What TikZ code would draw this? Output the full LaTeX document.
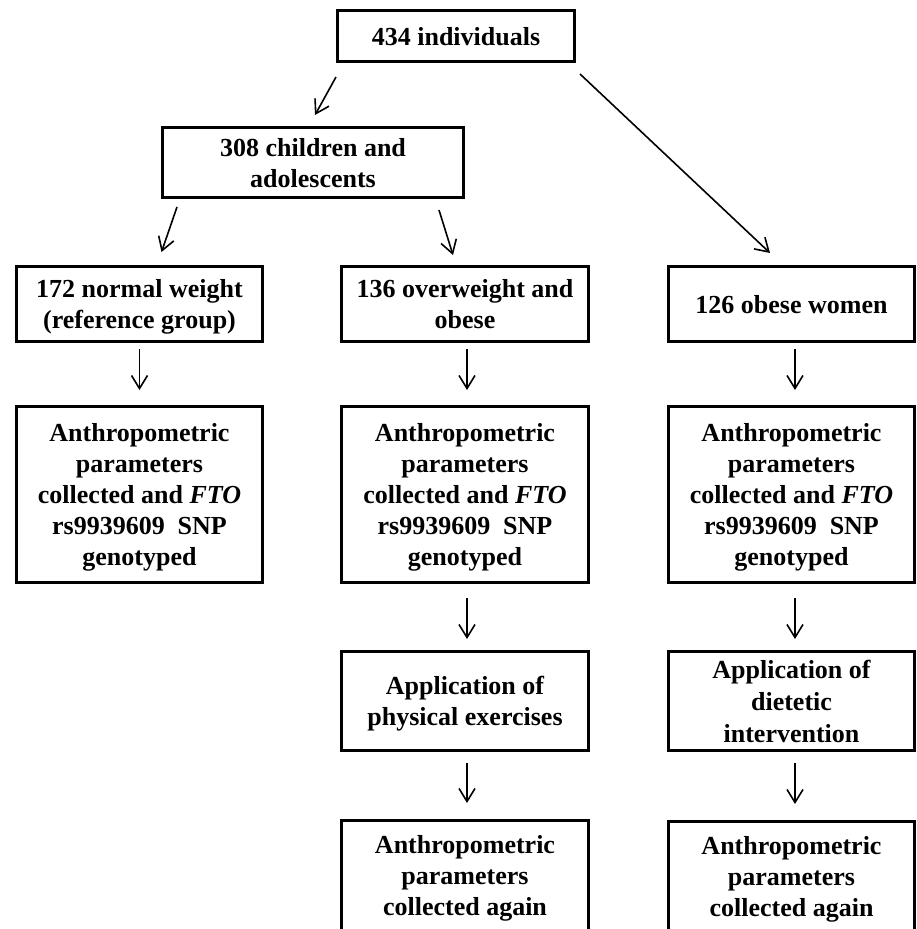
\documentclass[tikz,border=0pt]{standalone}
\usepackage{fontspec}
\setmainfont{Liberation Serif}
\usetikzlibrary{arrows.meta}
\tikzset{
  stage/.style={draw, line width=3pt, align=center, inner sep=0pt, text depth=-4pt,
    minimum width=246pt, font=\fontsize{26}{31}\selectfont\bfseries},
  link/.style={-{Straight Barb[length=13pt, width=16pt]}, line width=1.6pt},
}

\begin{document}
\begin{tikzpicture}[x=1pt, y=-1pt]

  \clip (0,0) rectangle (917,929);

  % ---- boxes, placed at pixel coordinates of the flow chart
  \node[stage, minimum width=237pt, minimum height=51pt] (T) at (456,36) {434 individuals};
  \node[stage, minimum width=301pt, minimum height=70pt] (C) at (313,162.5) {308 children and\\adolescents};

  \node[stage, minimum height=75pt] (N) at (139.5,304) {172 normal weight\\(reference group)};
  \node[stage, minimum height=75pt, minimum width=247pt] (O) at (465,304) {136 overweight and\\obese};
  \node[stage, minimum height=75pt] (W) at (791.5,304) {126 obese women};

  \node[stage, minimum height=176pt] (A1) at (139.5,494.5)
    {Anthropometric\\parameters\\collected and \textit{FTO}\\rs9939609~~SNP\\genotyped};
  \node[stage, minimum height=176pt, minimum width=247pt] (A2) at (465,494.5)
    {Anthropometric\\parameters\\collected and \textit{FTO}\\rs9939609~~SNP\\genotyped};
  \node[stage, minimum height=176pt] (A3) at (791.5,494.5)
    {Anthropometric\\parameters\\collected and \textit{FTO}\\rs9939609~~SNP\\genotyped};

  \node[stage, minimum height=99pt, minimum width=247pt] (P2) at (465,701) {Application of\\physical exercises};
  \node[stage, minimum height=99pt, font=\fontsize{26}{32}\selectfont\bfseries] (P3) at (791.5,701)
    {Application of\\dietetic\\intervention};

  \node[stage, minimum height=113pt, minimum width=247pt, text depth=4pt] (R2) at (465,877) {Anthropometric\\parameters\\collected again};
  \node[stage, minimum height=113pt, text depth=4pt] (R3) at (791.5,878) {Anthropometric\\parameters\\collected again};

  % ---- slanted links below the two upper boxes
  \draw[link] ([yshift=-14pt]T.south west) -- ([xshift=2pt, yshift=11pt]C.north);
  \draw[link] ([xshift=4pt, yshift=-11pt]T.south east) -- ([xshift=-21.5pt, yshift=12pt]W.north);
  \draw[link] ([xshift=16pt, yshift=-8pt]C.south west) -- ([xshift=22pt, yshift=13pt]N.north);
  \draw[link] ([xshift=-26pt, yshift=-11pt]C.south east) -- ([xshift=-12pt, yshift=10pt]O.north);

  % ---- straight links down each column
  \foreach \a/\b/\dx/\s/\e in {N/A1/0pt/6pt/15pt, O/A2/2pt/6pt/15pt, W/A3/3.5pt/6pt/15pt,
      A2/P2/2pt/14pt/11pt, A3/P3/3.5pt/14pt/11pt, P2/R2/2pt/11pt/16pt, P3/R3/3.5pt/11pt/16pt}
    \draw[link, shorten <=\s, shorten >=\e] ([xshift=\dx]\a.south) -- ([xshift=\dx]\b.north);

\end{tikzpicture}
\end{document}
